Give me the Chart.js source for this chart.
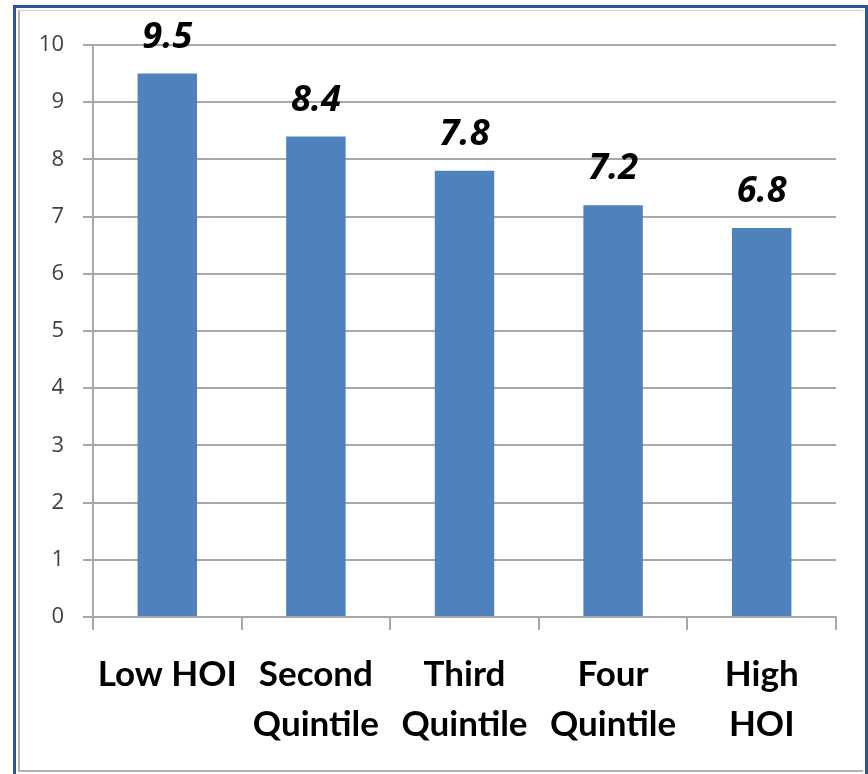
<!DOCTYPE html>
<html>
<head>
<meta charset="utf-8">
<script src="https://cdn.jsdelivr.net/npm/chart.js@4/dist/chart.umd.min.js"></script>
<style>
  html, body { margin: 0; padding: 0; background: #ffffff; }
  #wrap { position: relative; width: 868px; height: 774px; overflow: hidden; }
  #outer { position: absolute; left: 13px; top: 5px; width: 849px; height: 800px;
           border-left: 3px solid #2f5597; border-top: 3px solid #2f5597; border-right: 3px solid #2f5597; }
  #inner { position: absolute; left: 18px; top: 10px; width: 843px; height: 759px;
           border-left: 2px solid #b4b4b4; border-top: 1px solid #d0d0d0; border-bottom: 2px solid #b4b4b4; }
  canvas { position: absolute; left: 0; top: 0; }
</style>
</head>
<body>
<div id="wrap">
  <div id="outer"></div>
  <div id="inner"></div>
  <canvas id="c" width="868" height="774"></canvas>
</div>
<script>
const categories = [["Low HOI"], ["Second", "Quintile"], ["Third", "Quintile"], ["Four", "Quintile"], ["High", "HOI"]];
const values = [9.5, 8.4, 7.8, 7.2, 6.8];
const yTicks = [0, 1, 2, 3, 4, 5, 6, 7, 8, 9, 10];

// Bold italic value printed above each bar
const valueLabels = {
  id: 'valueLabels',
  afterDatasetsDraw(chart) {
    const ctx = chart.ctx;
    const meta = chart.getDatasetMeta(0);
    ctx.save();
    ctx.font = 'italic bold 36px "Open Sans", sans-serif';
    ctx.fillStyle = '#000000';
    ctx.textAlign = 'center';
    ctx.textBaseline = 'alphabetic';
    meta.data.forEach((bar, i) => {
      ctx.fillText(values[i].toFixed(1), bar.x, bar.y - 26);
    });
    ctx.restore();
  }
};

new Chart(document.getElementById('c'), {
  type: 'bar',
  data: {
    labels: categories,
    datasets: [{
      data: values,
      backgroundColor: '#4f81bd',
      borderWidth: 0,
      categoryPercentage: 1.0,
      barPercentage: 0.4
    }]
  },
  options: {
    responsive: false,
    animation: false,
    devicePixelRatio: 1,
    layout: { padding: { left: 0, right: 32, top: 45, bottom: 0 } },
    plugins: { legend: { display: false }, tooltip: { enabled: false } },
    scales: {
      y: {
        min: 0, max: 10,
        afterFit(scale) { scale.width = 93; },
        afterBuildTicks(scale) { scale.ticks = yTicks.map(v => ({ value: v })); },
        grid: { color: '#a8a8a8', lineWidth: 2, tickLength: 10, drawTicks: true },
        border: { color: '#a8a8a8', width: 2 },
        ticks: {
          color: '#404040',
          padding: 19,
          font: { family: '"Open Sans", sans-serif', size: 22 }
        }
      },
      x: {
        afterFit(scale) { scale.height = 157; },
        grid: { offset: true, drawOnChartArea: false, drawTicks: true, tickLength: 13, color: '#a8a8a8', lineWidth: 2 },
        border: { color: '#a8a8a8', width: 2 },
        ticks: {
          color: '#000000',
          padding: 19,
          maxRotation: 0,
          autoSkip: false,
          font: { family: 'Lato, sans-serif', size: 35, weight: 'bold', lineHeight: 1.45 }
        }
      }
    }
  },
  plugins: [valueLabels]
});
</script>
</body>
</html>
